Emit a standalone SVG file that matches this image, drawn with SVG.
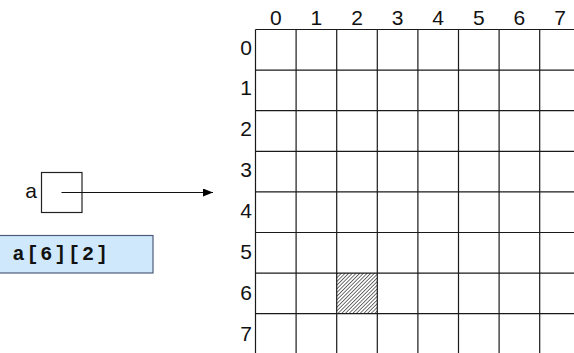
<svg xmlns="http://www.w3.org/2000/svg" width="574" height="353" viewBox="0 0 574 353">
<style>
.lbl{font-family:"Liberation Sans",Arial,sans-serif;font-size:21px;fill:#111}
.grid line{stroke:#1a1a1a;stroke-width:1.2}
.code{font-family:"Liberation Mono","Courier New",monospace;font-size:20px;font-weight:bold;fill:#111;letter-spacing:1.9px}
</style>
<defs>
<pattern id="hatch" patternUnits="userSpaceOnUse" width="2.6" height="2.6" patternTransform="rotate(45)">
<rect width="2.6" height="2.6" fill="#fff"/>
<line x1="0" y1="0" x2="0" y2="2.6" stroke="#222" stroke-width="1.3"/>
</pattern>
<marker id="arr" markerWidth="10" markerHeight="8" refX="10" refY="4" orient="auto" markerUnits="userSpaceOnUse">
<path d="M0,0 L10,4 L0,8 Z" fill="#000"/>
</marker>
</defs>
<rect width="574" height="353" fill="#fff"/>
<g id="array-grid">
<rect x="336.7" y="273.1" width="40.6" height="40.6" fill="url(#hatch)"/>
<g class="grid">
<line x1="255.5" y1="29.5" x2="255.5" y2="353"/>
<line x1="296.1" y1="29.5" x2="296.1" y2="353"/>
<line x1="336.7" y1="29.5" x2="336.7" y2="353"/>
<line x1="377.3" y1="29.5" x2="377.3" y2="353"/>
<line x1="417.9" y1="29.5" x2="417.9" y2="353"/>
<line x1="458.5" y1="29.5" x2="458.5" y2="353"/>
<line x1="499.1" y1="29.5" x2="499.1" y2="353"/>
<line x1="539.7" y1="29.5" x2="539.7" y2="353"/>
<line x1="255.5" y1="29.5" x2="574" y2="29.5"/>
<line x1="255.5" y1="70.1" x2="574" y2="70.1"/>
<line x1="255.5" y1="110.7" x2="574" y2="110.7"/>
<line x1="255.5" y1="151.3" x2="574" y2="151.3"/>
<line x1="255.5" y1="191.9" x2="574" y2="191.9"/>
<line x1="255.5" y1="232.5" x2="574" y2="232.5"/>
<line x1="255.5" y1="273.1" x2="574" y2="273.1"/>
<line x1="255.5" y1="313.7" x2="574" y2="313.7"/>
</g>
<g class="lbl" text-anchor="middle">
<text x="275.8" y="24.5">0</text>
<text x="316.4" y="24.5">1</text>
<text x="357" y="24.5">2</text>
<text x="397.6" y="24.5">3</text>
<text x="438.2" y="24.5">4</text>
<text x="478.8" y="24.5">5</text>
<text x="519.4" y="24.5">6</text>
<text x="560" y="24.5">7</text>
</g>
<g class="lbl" text-anchor="end">
<text x="252" y="54.5">0</text>
<text x="252" y="95.4">1</text>
<text x="252" y="136.2">2</text>
<text x="252" y="177">3</text>
<text x="252" y="218">4</text>
<text x="252" y="258.8">5</text>
<text x="252" y="299.7">6</text>
<text x="252" y="340.8">7</text>
</g>
</g>
<g id="var-a">
<text class="lbl" x="37" y="197.5" text-anchor="end">a</text>
<rect x="41.5" y="172.5" width="40.5" height="40" fill="#fff" stroke="#222" stroke-width="1.2"/>
</g>
<g id="index-expr">
<rect x="-1" y="235.5" width="154" height="37.5" fill="#cfe8fc" stroke="#4d5b78" stroke-width="1.2"/>
<text class="code" x="12.5" y="260">a[6][2]</text>
</g>
<g id="connectors">
<line x1="61.5" y1="192.5" x2="213" y2="192.5" stroke="#111" stroke-width="1.2" marker-end="url(#arr)"/>
</g>
</svg>
